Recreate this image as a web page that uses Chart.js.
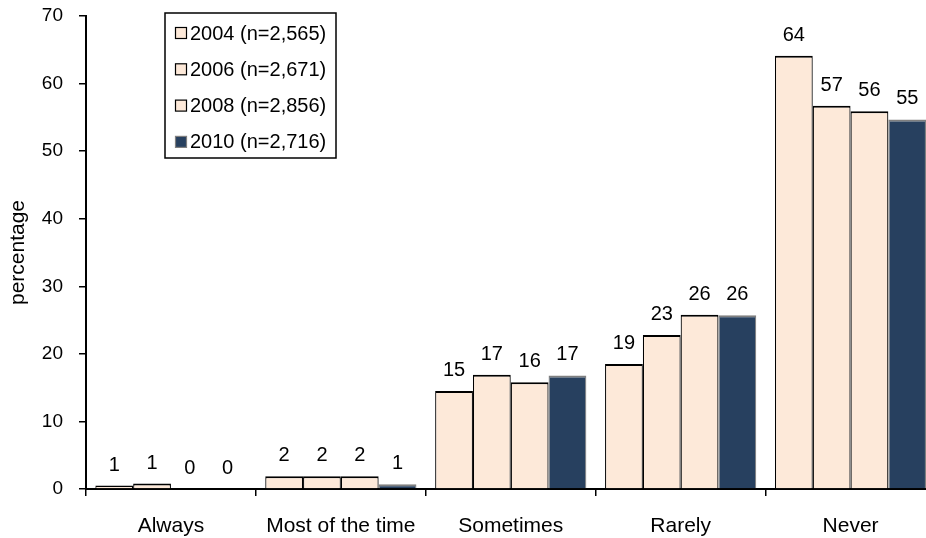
<!DOCTYPE html>
<html>
<head>
<meta charset="utf-8">
<title>Frequency by survey year</title>
<script src="https://cdn.jsdelivr.net/npm/chart.js@4.4.1/dist/chart.umd.min.js"></script>
<style>
  html, body { margin: 0; padding: 0; background: #fff; overflow: hidden; }
  #wrap { position: relative; width: 945px; height: 538px; }
</style>
</head>
<body>
<div id="wrap"><canvas id="chart"></canvas></div>
<script>
// Response categories and survey-year series (percentages)
const categories = ['Always', 'Most of the time', 'Sometimes', 'Rarely', 'Never'];
const seriesNames = ['2004 (n=2,565)', '2006 (n=2,671)', '2008 (n=2,856)', '2010 (n=2,716)'];
const values2004 = [0.5, 1.9, 14.5, 18.5, 64.1];
const values2006 = [0.8, 1.9, 16.9, 22.8, 56.7];
const values2008 = [0, 1.9, 15.8, 25.8, 55.9];
const values2010 = [0, 0.7, 16.8, 25.7, 54.7];
const yTicks = [0, 10, 20, 30, 40, 50, 60, 70];

const PEACH = '#FDE9D9';
const NAVY = '#27405F';
const FONT = '"Liberation Sans", Arial, Helvetica, sans-serif';
Chart.defaults.font.family = FONT;
Chart.defaults.color = '#000';

function series(label, data, fill, stroke) {
  return {
    label, data,
    backgroundColor: fill,
    borderColor: stroke,
    borderWidth: { top: 2, left: 1.2, right: 1.2, bottom: 0 },
    borderSkipped: 'bottom',
    categoryPercentage: 0.89,
    barPercentage: 1.0
  };
}

// Rounded value printed above every bar
const valueLabels = {
  id: 'valueLabels',
  afterDatasetsDraw(chart) {
    const ctx = chart.ctx;
    ctx.save();
    ctx.font = '20px ' + FONT;
    ctx.fillStyle = '#000';
    ctx.textAlign = 'center';
    ctx.textBaseline = 'alphabetic';
    chart.data.datasets.forEach((ds, i) => {
      chart.getDatasetMeta(i).data.forEach((bar, j) => {
        ctx.fillText(String(Math.round(ds.data[j])), bar.x, bar.y - 15);
      });
    });
    ctx.restore();
  }
};

// Boxed legend inside the plot, upper left
const boxLegend = {
  id: 'boxLegend',
  afterDraw(chart) {
    const ctx = chart.ctx;
    const x = 165, y = 13, w = 171, h = 145;
    ctx.save();
    ctx.fillStyle = '#fff';
    ctx.fillRect(x, y, w, h);
    ctx.strokeStyle = '#000';
    ctx.lineWidth = 1.5;
    ctx.strokeRect(x, y, w, h);
    ctx.font = '20px ' + FONT;
    ctx.textBaseline = 'middle';
    ctx.textAlign = 'left';
    chart.data.datasets.forEach((ds, i) => {
      const cy = y + 20 + i * 36.3;
      ctx.fillStyle = ds.backgroundColor;
      ctx.fillRect(175.5, cy - 5.5, 11, 11);
      ctx.strokeStyle = ds.borderColor;
      ctx.lineWidth = 1.2;
      ctx.strokeRect(175.5, cy - 5.5, 11, 11);
      ctx.fillStyle = '#000';
      ctx.fillText(ds.label, 190, cy + 1);
    });
    ctx.restore();
  }
};

new Chart(document.getElementById('chart'), {
  type: 'bar',
  data: {
    labels: categories,
    datasets: [
      series(seriesNames[0], values2004, PEACH, '#000'),
      series(seriesNames[1], values2006, PEACH, '#000'),
      series(seriesNames[2], values2008, PEACH, '#000'),
      series(seriesNames[3], values2010, NAVY, '#7F7F7F')
    ]
  },
  options: {
    responsive: true,
    maintainAspectRatio: false,
    animation: false,
    layout: { padding: { top: 16, right: 9.5, bottom: 0, left: 0 } },
    plugins: {
      legend: { display: false },
      tooltip: { enabled: false }
    },
    scales: {
      x: {
        offset: true,
        grid: { display: true, drawOnChartArea: false, offset: true, tickLength: 7, color: '#000', lineWidth: 1.5 },
        border: { display: true, color: '#000', width: 2 },
        ticks: { font: { size: 21 }, color: '#000', padding: 18, maxRotation: 0 },
        afterFit(scale) {
          scale.height = 49;
          scale.paddingLeft = 0;
          scale.paddingRight = 0;
        }
      },
      y: {
        min: 0,
        max: 70,
        afterBuildTicks(scale) { scale.ticks = yTicks.map(v => ({ value: v })); },
        grid: { display: true, drawOnChartArea: false, tickLength: 7, color: '#000', lineWidth: 1.5 },
        border: { display: true, color: '#000', width: 2 },
        ticks: { font: { size: 19 }, color: '#000', padding: 16 },
        title: { display: true, text: 'percentage', font: { size: 21 }, color: '#000', padding: { top: 6, bottom: 0 } },
        afterFit(scale) {
          scale.width = 86;
          scale.paddingTop = 0;
          scale.paddingBottom = 0;
        }
      }
    }
  },
  plugins: [valueLabels, boxLegend]
});
</script>
</body>
</html>
